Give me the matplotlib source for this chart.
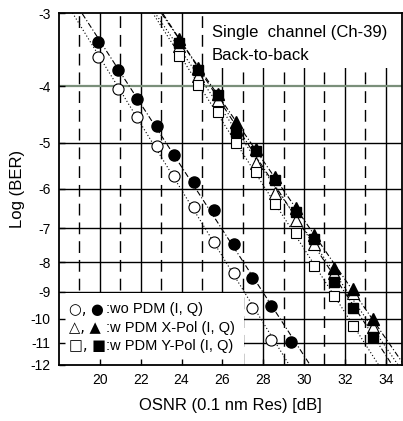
import numpy as np
import matplotlib

matplotlib.use("Agg")
import matplotlib.pyplot as plt
from matplotlib.patches import Rectangle

plt.rcParams["font.family"] = ["Liberation Sans", "DejaVu Sans"]
plt.rcParams["axes.unicode_minus"] = False

# wo PDM (I, Q)
wo_x_open = [19.89, 20.87, 21.80, 22.79, 23.64, 24.60, 25.59, 26.58, 27.47, 28.40]
wo_y_open = [-3.57, -4.04, -4.52, -5.06, -5.71, -6.45, -7.38, -8.34, -9.57, -10.86]
wo_x_fill = [19.89, 20.87, 21.80, 22.79, 23.64, 24.60, 25.59, 26.58, 27.47, 28.40, 29.36]
wo_y_fill = [-3.36, -3.76, -4.21, -4.69, -5.24, -5.83, -6.53, -7.44, -8.53, -9.51, -10.94]

# w PDM X-Pol / Y-Pol (I, Q)
pdm_x = [23.87, 24.80, 25.78, 26.67, 27.65, 28.58, 29.63, 30.49, 31.45, 32.39, 33.37]
xpol_y_open = [-3.41, -3.84, -4.23, -4.72, -5.42, -6.10, -6.77, -7.46, -8.36, -9.02, -10.34]
xpol_y_fill = [-3.32, -3.72, -4.12, -4.61, -5.13, -5.72, -6.47, -7.18, -8.18, -8.88, -10.01]
ypol_y_open = [-3.55, -3.98, -4.43, -5.01, -5.62, -6.36, -7.13, -8.13, -9.14, -10.28]
ypol_y_fill = [-3.37, -3.76, -4.15, -4.79, -5.17, -5.79, -6.56, -7.32, -8.64, -9.60, -10.76]

x_ticks = [20, 22, 24, 26, 28, 30, 32, 34]
y_ticks = [-3, -4, -5, -6, -7, -8, -9, -10, -11, -12]
y_labels = ["-3", "-4", "-5", "-6", "-7", "-8", "-9", "-10", "-11", "-12"]
legend_symbols = ["\u25cb, \u25cf", "\u25b3, \u25b2", "\u25a1, \u25a0"]
legend_labels = [":wo PDM (I, Q)", ":w PDM X-Pol (I, Q)", ":w PDM Y-Pol (I, Q)"]


def fwd(y):
    y = np.asarray(y, dtype=float)
    return -np.log10(np.clip(-y, 1e-9, None))


def inv(u):
    return -(10.0 ** (-np.asarray(u, dtype=float)))


def fit_line(ax, xs, ys, ls):
    # straight fit in the BER-scale coordinates, drawn across the whole y range
    a, b = np.polyfit(fwd(ys), xs, 1)
    y_ends = np.array([-2.9, -12.5])
    ax.plot(a * fwd(y_ends) + b, y_ends, color="black", lw=0.8, ls=ls, zorder=2)


fig = plt.figure(figsize=(4.03, 4.21), dpi=100)
ax = fig.add_axes([59 / 403, 1 - 365 / 421, 343 / 403, 352 / 421])
ax.set_yscale("function", functions=(fwd, inv))
ax.set_xlim(18, 34.8)
ax.set_ylim(-12, -3)

# grid
for xv in range(19, 35):
    if xv % 2 == 0:
        ax.axvline(xv, color="black", lw=1.0, zorder=0.5)
    else:
        ax.axvline(xv, color="black", lw=1.0, ls=(0, (8.5, 5)), zorder=0.5)
for yv in y_ticks[2:-1]:
    ax.axhline(yv, color="black", lw=1.0, zorder=0.5)
ax.axhline(-4, color="#7a8f7a", lw=1.6, zorder=0.6)

# white boxes behind annotation and legend
ax.add_patch(Rectangle((0.4257, 0.8438), 0.58, 0.16, transform=ax.transAxes,
                       facecolor="white", edgecolor="none", zorder=1.5))
ax.add_patch(Rectangle((0.0, 0.0), 0.539, 0.2045, transform=ax.transAxes,
                       facecolor="white", edgecolor="none", zorder=1.5))

# fit lines
fit_line(ax, wo_x_open, wo_y_open, (0, (1, 2)))
fit_line(ax, wo_x_fill, wo_y_fill, (0, (5, 2, 1, 2)))
fit_line(ax, pdm_x, xpol_y_open, (0, (1, 2)))
fit_line(ax, pdm_x, xpol_y_fill, (0, (5, 2, 1, 2)))
fit_line(ax, pdm_x[:len(ypol_y_open)], ypol_y_open, (0, (1, 2)))
fit_line(ax, pdm_x, ypol_y_fill, (0, (5, 2, 1, 2)))

open_kw = dict(ls="none", mfc="white", mec="black", mew=0.8, zorder=3)
fill_kw = dict(ls="none", mfc="black", mec="black", zorder=4)
ax.plot(wo_x_open, wo_y_open, "o", ms=8, **open_kw)
ax.plot(pdm_x, xpol_y_open, "^", ms=8.5, **open_kw)
ax.plot(pdm_x[:len(ypol_y_open)], ypol_y_open, "s", ms=7, **open_kw)
ax.plot(wo_x_fill, wo_y_fill, "o", ms=8, **fill_kw)
ax.plot(pdm_x, ypol_y_fill, "s", ms=7, **fill_kw)
ax.plot(pdm_x, xpol_y_fill, "^", ms=8.5, **fill_kw)

ax.set_xticks(x_ticks)
ax.set_yticks(y_ticks)
ax.set_yticklabels(y_labels)
ax.minorticks_off()
ax.tick_params(direction="in", length=4, width=1, labelsize=10, pad=6)
for s in ax.spines.values():
    s.set_linewidth(1.3)
    s.set_zorder(5)

ax.set_xlabel("OSNR (0.1 nm Res) [dB]", fontsize=12, labelpad=8)
ax.set_ylabel("Log (BER)", fontsize=12, labelpad=4)

ax.text(0.446, 0.931, "Single  channel (Ch-39)", transform=ax.transAxes,
        fontsize=12, va="baseline", ha="left", zorder=6)
ax.text(0.446, 0.866, "Back-to-back", transform=ax.transAxes,
        fontsize=12, va="baseline", ha="left", zorder=6)

for yf, sym, lab in zip([0.1582, 0.1059, 0.0548], legend_symbols, legend_labels):
    ax.text(0.028, yf, sym, transform=ax.transAxes, fontsize=10.5,
            family="DejaVu Sans", va="center", ha="left", zorder=6)
    ax.text(0.138, yf, lab, transform=ax.transAxes, fontsize=10.5,
            va="center", ha="left", zorder=6)

fig.savefig("out.png", dpi=100, facecolor="white")
